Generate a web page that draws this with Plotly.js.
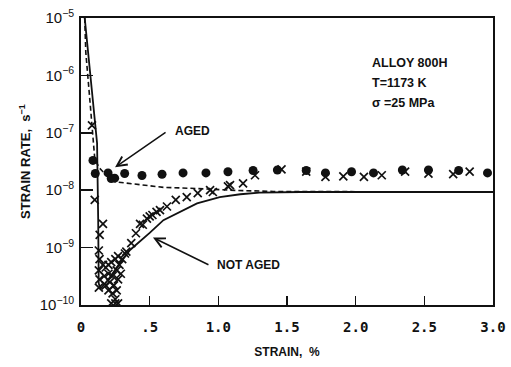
<!DOCTYPE html>
<html>
<head>
<meta charset="utf-8">
<script src="https://cdn.plot.ly/plotly-3.0.1.min.js"></script>
<style>html,body{margin:0;padding:0;background:#fff;}#chart{width:511px;height:367px;}</style>
</head>
<body>
<div id="chart"></div>
<script>
// ---- data (strain in %, strain rate in 1/s) ----
const agedCurveStrain = [0.027, 0.035, 0.06, 0.08, 0.092, 0.10, 0.13, 0.16, 0.25, 0.357, 0.45, 0.6, 0.845, 1.085, 1.4, 2.0, 2.5, 3.0];
const agedCurveRate   = [1e-5, 2.5e-6, 5e-7, 1.4e-7, 6.9e-8, 3.6e-8, 2.5e-8, 2.1e-8, 1.4e-8, 1.32e-8, 1.23e-8, 1.12e-8, 1.07e-8, 1.0e-8, 9.5e-9, 9.5e-9, 9.3e-9, 9.3e-9];

const notAgedCurveStrain = [0.027, 0.117, 0.125, 0.129, 0.14, 0.2, 0.28, 0.357, 0.5, 0.6, 0.845, 1.01, 1.16, 1.3, 1.6, 2.0, 3.0];
const notAgedCurveRate   = [1e-5, 6.6e-8, 3.2e-9, 2.4e-10, 1.9e-10, 2.8e-10, 5.2e-10, 9.1e-10, 1.8e-9, 3.0e-9, 5.9e-9, 7.6e-9, 8.5e-9, 9.1e-9, 9.3e-9, 9.3e-9, 9.3e-9];

const agedPointStrain = [0.087, 0.104, 0.197, 0.22, 0.245, 0.318, 0.444, 0.59, 0.743, 0.91, 1.07, 1.253, 1.43, 1.64, 1.78, 1.97, 2.13, 2.34, 2.53, 2.75, 2.96];
const agedPointRate   = [3.3e-8, 1.95e-8, 2.0e-8, 1.6e-8, 1.62e-8, 1.95e-8, 1.8e-8, 1.9e-8, 2.0e-8, 2.0e-8, 2.1e-8, 2.2e-8, 2.25e-8, 2.2e-8, 2.0e-8, 2.1e-8, 2.0e-8, 2.25e-8, 2.25e-8, 2.2e-8, 2.0e-8];

const notAgedPointStrain = [0.08, 0.10, 0.16, 0.136,
  0.13, 0.135, 0.13, 0.135, 0.13,
  0.16, 0.18, 0.2, 0.22, 0.25, 0.27, 0.17, 0.2, 0.23, 0.26, 0.28, 0.18, 0.21, 0.24, 0.27, 0.2, 0.23, 0.26, 0.29, 0.3, 0.32,
  0.22, 0.25, 0.27, 0.25,
  0.33, 0.366, 0.40, 0.43, 0.45, 0.48, 0.50, 0.52, 0.55, 0.575, 0.626, 0.69, 0.77, 0.85, 0.94, 0.96, 1.07, 1.085, 1.18,
  1.267, 1.46, 1.64, 1.78, 1.91, 2.06, 2.19, 2.36, 2.53, 2.71, 2.83];
const notAgedPointRate = [1.35e-7, 6.8e-9, 2.6e-9, 1.66e-9,
  8.9e-10, 6.3e-10, 4e-10, 2.8e-10, 2e-10,
  5e-10, 4.5e-10, 5e-10, 5.6e-10, 6.3e-10, 7.1e-10, 3.2e-10, 3.5e-10, 3.2e-10, 4e-10, 5e-10, 2.2e-10, 2.5e-10, 2.2e-10, 2.8e-10, 1.8e-10, 1.6e-10, 1.8e-10, 3.5e-10, 6.3e-10, 7.9e-10,
  1.07e-10, 1.07e-10, 1.07e-10, 1.26e-10,
  8.5e-10, 1.2e-9, 1.78e-9, 2.6e-9, 2.5e-9, 3.2e-9, 3.5e-9, 3.7e-9, 4.2e-9, 4.5e-9, 5.2e-9, 6.8e-9, 7.6e-9, 8.9e-9, 1.0e-8, 9.3e-9, 1.17e-8, 1.23e-8, 1.32e-8,
  1.82e-8, 2.3e-8, 2.1e-8, 1.7e-8, 1.74e-8, 1.7e-8, 1.82e-8, 2.1e-8, 1.95e-8, 1.9e-8, 2.1e-8];

const xTickVals = [0, 0.5, 1.0, 1.5, 2.0, 2.5, 3.0];
const xTickText = ['0', '.5', '1.0', '1.5', '2.0', '2.5', '3.0'];
const yTickVals = [1e-10, 1e-9, 1e-8, 1e-7, 1e-6, 1e-5];
const yTickText = ['10<sup>−10</sup>', '10<sup>−9</sup>', '10<sup>−8</sup>', '10<sup>−7</sup>', '10<sup>−6</sup>', '10<sup>−5</sup>'];

const infoLines = ['ALLOY 800H', 'T=1173 K', 'σ =25 MPa'];

// ---- plot ----
const black = '#111';
const traces = [
  {x: agedCurveStrain, y: agedCurveRate, mode: 'lines', name: 'AGED',
   line: {color: black, width: 1.6, dash: '5px,3px'}},
  {x: notAgedCurveStrain, y: notAgedCurveRate, mode: 'lines', name: 'NOT AGED',
   line: {color: black, width: 1.8}},
  {x: agedPointStrain, y: agedPointRate, mode: 'markers', name: 'aged data',
   marker: {symbol: 'circle', size: 9, color: black}},
  {x: notAgedPointStrain, y: notAgedPointRate, mode: 'markers', name: 'not aged data',
   marker: {symbol: 'x-thin', size: 8, color: black, line: {color: black, width: 1.7}}}
];

const labelFont = {family: 'Liberation Sans, Arial, sans-serif', size: 12, color: black, weight: 'bold'};

const annotations = [
  {x: 0.248, y: Math.log10(2.5e-8), xref: 'x', yref: 'y', ax: 52, ay: -36, text: '',
   showarrow: true, arrowhead: 5, arrowsize: 1.3, arrowwidth: 1.5, arrowcolor: black},
  {x: 0.524, y: Math.log10(1.5e-9), xref: 'x', yref: 'y', ax: 57, ay: 28, text: '',
   showarrow: true, arrowhead: 5, arrowsize: 1.3, arrowwidth: 1.5, arrowcolor: black},
  {x: 173, y: 131, xref: 'paper', yref: 'paper', text: 'AGED', showarrow: false, font: labelFont},
  {x: 215, y: 265, xref: 'paper', yref: 'paper', text: 'NOT AGED', showarrow: false, font: labelFont}
];
infoLines.forEach((t, i) => {
  annotations.push({x: 370, y: 63 + 20 * i, xref: 'paper', yref: 'paper', text: t, showarrow: false,
    font: Object.assign({}, labelFont, {size: 12.5})});
});
// convert pixel-positioned text annotations to paper coordinates
const L = 81, R = 18, T = 18, B = 62, W = 511, H = 367;
annotations.forEach(a => {
  if (a.xref === 'paper') {
    a.x = (a.x - L) / (W - L - R);
    a.y = 1 - (a.y - T) / (H - T - B);
    a.xanchor = 'left';
    a.yanchor = 'middle';
  }
});

const layout = {
  width: W, height: H,
  margin: {l: L, r: R, t: T, b: B},
  paper_bgcolor: '#fff', plot_bgcolor: '#fff',
  showlegend: false,
  font: {family: 'Liberation Sans, Arial, sans-serif', color: black},
  xaxis: {
    range: [0, 3], tickvals: xTickVals, ticktext: xTickText,
    ticks: 'inside', ticklen: 9, tickwidth: 1.5, tickcolor: black,
    showline: true, linecolor: black, linewidth: 1.8, mirror: true,
    showgrid: false, zeroline: false, ticklabelstandoff: 8,
    tickfont: {family: 'DejaVu Sans Mono, monospace', size: 14, color: black, weight: 'bold'},
    title: {text: 'STRAIN,  %', standoff: 14, font: {family: 'Liberation Sans, Arial, sans-serif', size: 12, color: black, weight: 'bold'}}
  },
  yaxis: {
    type: 'log', range: [-10, -5], tickvals: yTickVals, ticktext: yTickText,
    ticks: 'inside', ticklen: 12, tickwidth: 1.5, tickcolor: black,
    showline: true, linecolor: black, linewidth: 1.8, mirror: true,
    showgrid: false, zeroline: false, ticklabelstandoff: 2,
    tickfont: {family: 'Liberation Sans, Arial, sans-serif', size: 15, color: black},
    title: {text: 'STRAIN RATE,  s<sup>−1</sup>', standoff: 6, font: {family: 'Liberation Sans, Arial, sans-serif', size: 13, color: black, weight: 'bold'}}
  },
  annotations: annotations
};

Plotly.newPlot('chart', traces, layout, {staticPlot: true, displayModeBar: false});
</script>
</body>
</html>
